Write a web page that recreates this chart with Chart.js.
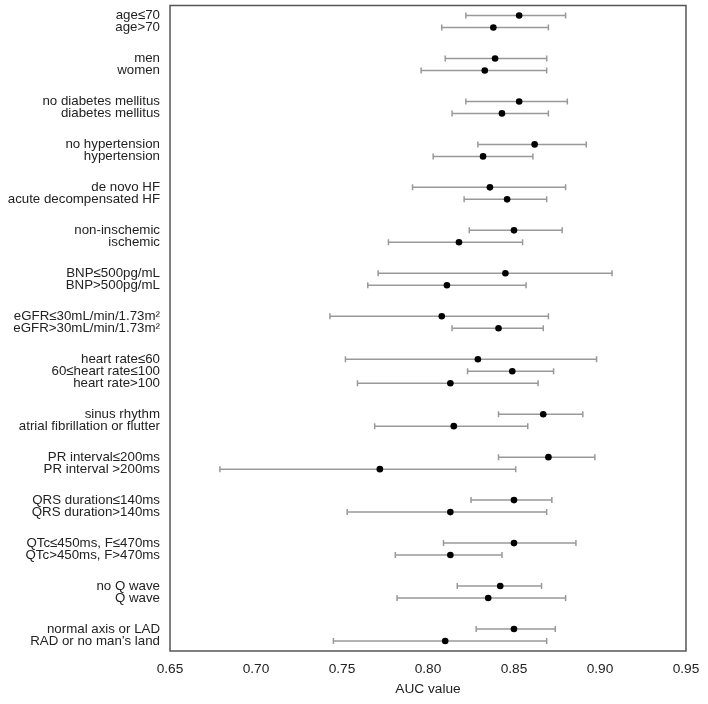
<!DOCTYPE html>
<html>
<head>
<meta charset="utf-8">
<script src="https://cdn.jsdelivr.net/npm/chart.js@4.4.1/dist/chart.umd.min.js"></script>
<style>
  html, body { margin: 0; padding: 0; background: #fff; }
  #wrap { width: 708px; height: 704px; }
</style>
</head>
<body>
<div id="wrap"><canvas id="aucChart" width="708" height="704"></canvas></div>

<script>
// subgroups, top to bottom
const labels = [
    'age≤70', 'age>70',
    'men', 'women',
    'no diabetes mellitus', 'diabetes mellitus',
    'no hypertension', 'hypertension',
    'de novo HF', 'acute decompensated HF',
    'non-inschemic', 'ischemic',
    'BNP≤500pg/mL', 'BNP>500pg/mL',
    'eGFR≤30mL/min/1.73m²', 'eGFR>30mL/min/1.73m²',
    'heart rate≤60', '60≤heart rate≤100', 'heart rate>100',
    'sinus rhythm', 'atrial fibrillation or flutter',
    'PR interval≤200ms', 'PR interval >200ms',
    'QRS duration≤140ms', 'QRS duration>140ms',
    'QTc≤450ms, F≤470ms', 'QTc>450ms, F>470ms',
    'no Q wave', 'Q wave',
    'normal axis or LAD', 'RAD or no man’s land'
];
const groupOf = [0,0, 1,1, 2,2, 3,3, 4,4, 5,5, 6,6, 7,7, 8,8,8, 9,9, 10,10, 11,11, 12,12, 13,13, 14,14];

const auc = [0.853, 0.838, 0.839, 0.833, 0.853, 0.843, 0.862, 0.832, 0.836, 0.846,
             0.850, 0.818, 0.845, 0.811, 0.808, 0.841, 0.829, 0.849, 0.813, 0.867,
             0.815, 0.870, 0.772, 0.850, 0.813, 0.850, 0.813, 0.842, 0.835, 0.850, 0.810];
const lower = [0.822, 0.808, 0.810, 0.796, 0.822, 0.814, 0.829, 0.803, 0.791, 0.821,
               0.824, 0.777, 0.771, 0.765, 0.743, 0.814, 0.752, 0.823, 0.759, 0.841,
               0.769, 0.841, 0.679, 0.825, 0.753, 0.809, 0.781, 0.817, 0.782, 0.828, 0.745];
const upper = [0.880, 0.870, 0.869, 0.869, 0.881, 0.870, 0.892, 0.861, 0.880, 0.869,
               0.878, 0.855, 0.907, 0.857, 0.870, 0.867, 0.898, 0.873, 0.864, 0.890,
               0.858, 0.897, 0.851, 0.872, 0.869, 0.886, 0.843, 0.866, 0.880, 0.874, 0.869];

const xTicks = [0.65, 0.70, 0.75, 0.80, 0.85, 0.90, 0.95];

// row i sits one unit below row i-1, plus an extra gap between groups
const GROUP_GAP = 19 / 12;
const rowY = labels.map((_, i) => i + groupOf[i] * GROUP_GAP);

// whiskers: one line with breaks, caps drawn as vertical line points
const whiskerData = [];
labels.forEach((_, i) => {
    whiskerData.push({ x: lower[i], y: rowY[i] });
    whiskerData.push({ x: upper[i], y: rowY[i] });
    whiskerData.push({ x: null, y: null });
});
const pointData = labels.map((_, i) => ({ x: auc[i], y: rowY[i] }));

const frameBox = {
    id: 'frameBox',
    afterDraw(chart) {
        const a = chart.chartArea;
        const ctx = chart.ctx;
        ctx.save();
        ctx.strokeStyle = '#555';
        ctx.lineWidth = 1.5;
        ctx.strokeRect(a.left, a.top, a.right - a.left, a.bottom - a.top);
        ctx.restore();
    }
};

document.addEventListener('DOMContentLoaded', function() {
    const ctx = document.getElementById('aucChart').getContext('2d');
    new Chart(ctx, {
        type: 'scatter',
        data: {
            datasets: [{
                order: 1,
                data: whiskerData,
                showLine: true,
                spanGaps: false,
                borderColor: '#999',
                borderWidth: 1.5,
                pointStyle: 'line',
                rotation: 90,
                pointRadius: 3,
                pointBorderColor: '#999',
                pointBorderWidth: 1.5
            }, {
                order: 0,
                data: pointData,
                pointRadius: 3.3,
                backgroundColor: '#000',
                borderColor: '#000',
                borderWidth: 0
            }]
        },
        options: {
            responsive: false,
            animation: false,
            layout: { padding: { top: 5, right: 22, bottom: 7, left: 0 } },
            plugins: {
                legend: { display: false },
                tooltip: { enabled: false }
            },
            scales: {
                x: {
                    type: 'linear',
                    min: 0.65,
                    max: 0.95,
                    afterBuildTicks: axis => { axis.ticks = xTicks.map(v => ({ value: v })); },
                    afterFit: axis => {
                        axis.height = 46;
                        axis.paddingLeft = 0;
                        axis.paddingRight = 0;
                    },
                    grid: { display: false, drawTicks: false },
                    border: { display: false },
                    ticks: {
                        padding: 10,
                        color: '#222',
                        font: { family: 'Liberation Sans, Arial, sans-serif', size: 13.7 },
                        callback: v => v.toFixed(2)
                    },
                    title: {
                        display: true,
                        text: 'AUC value',
                        color: '#222',
                        padding: { top: 0, bottom: 0 },
                        font: { family: 'Liberation Sans, Arial, sans-serif', size: 13.7 }
                    }
                },
                y: {
                    type: 'linear',
                    reverse: true,
                    min: -10 / 12,
                    max: 636 / 12,
                    afterBuildTicks: axis => { axis.ticks = rowY.map(v => ({ value: v })); },
                    afterFit: axis => {
                        axis.width = 170;
                        axis.paddingTop = 0;
                        axis.paddingBottom = 0;
                    },
                    grid: { display: false, drawTicks: false },
                    border: { display: false },
                    ticks: {
                        autoSkip: false,
                        padding: 10,
                        color: '#222',
                        font: { family: 'Liberation Sans, Arial, sans-serif', size: 13.3 },
                        callback: (v, i) => labels[i]
                    }
                }
            }
        },
        plugins: [frameBox]
    });
});
</script>
</body>
</html>
